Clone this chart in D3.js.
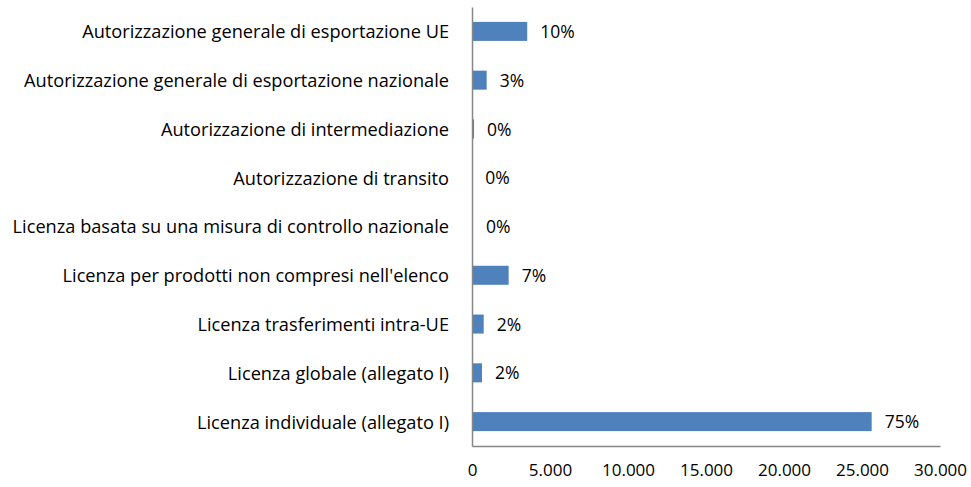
<!DOCTYPE html>
<html>
<head>
<meta charset="utf-8">
<script src="https://cdn.jsdelivr.net/npm/d3@7"></script>
<style>
  body { margin: 0; background: #fff; }
  svg text { font-family: "Open Sans", sans-serif; fill: #000; }
</style>
</head>
<body>
<div id="chart-area"></div>
<script>
var categories = [
	"Autorizzazione generale di esportazione UE",
	"Autorizzazione generale di esportazione nazionale",
	"Autorizzazione di intermediazione",
	"Autorizzazione di transito",
	"Licenza basata su una misura di controllo nazionale",
	"Licenza per prodotti non compresi nell'elenco",
	"Licenza trasferimenti intra-UE",
	"Licenza globale (allegato I)",
	"Licenza individuale (allegato I)"
];
var values = [3540, 940, 130, 10, 60, 2350, 750, 640, 25620];
var pctLabels = ["10%", "3%", "0%", "0%", "0%", "7%", "2%", "2%", "75%"];
var xTicks = [0, 5000, 10000, 15000, 20000, 25000, 30000];

var margin = {top: 7, right: 31, bottom: 41, left: 472};
var width = 971 - margin.left - margin.right;
var height = 487 - margin.top - margin.bottom;

var svg = d3.select("#chart-area")
	.append("svg")
		.attr("width", 971)
		.attr("height", 487);

var g = svg.append("g")
	.attr("transform", "translate(" + margin.left + ", " + margin.top + ")");

var x = d3.scaleLinear()
	.domain([0, 30000])
	.range([0, width]);

var y = d3.scaleBand()
	.domain(categories)
	.range([0, height])
	.paddingInner(0.61)
	.paddingOuter(0.305);

var fmt = function(d) { return d3.format(",")(d).replace(/,/g, "."); };

// bars
g.selectAll("rect.bar")
	.data(values)
	.enter()
	.append("rect")
		.attr("class", "bar")
		.attr("x", 0)
		.attr("y", (d, i) => y(categories[i]))
		.attr("width", (d) => x(d))
		.attr("height", y.bandwidth())
		.attr("fill", "#4F81BD");

// value labels
g.selectAll("text.val")
	.data(values)
	.enter()
	.append("text")
		.attr("class", "val")
		.attr("x", (d) => x(d) + 13)
		.attr("y", (d, i) => y(categories[i]) + y.bandwidth() / 2)
		.attr("dy", "0.38em")
		.attr("font-size", "17.5px")
		.text((d, i) => pctLabels[i]);

// left axis
var leftAxis = d3.axisLeft(y).tickSize(0).tickPadding(23);
var ly = g.append("g")
	.attr("class", "left axis")
	.call(leftAxis);
ly.select(".domain").attr("stroke", "#868686").attr("stroke-width", 1.5);
ly.selectAll("text").attr("font-size", "18.2px").attr("dy", "0.38em").attr("font-family", "'Open Sans', sans-serif").attr("fill", "#000");

// bottom axis
var bottomAxis = d3.axisBottom(x).tickValues(xTicks).tickSize(0).tickPadding(18).tickFormat(fmt);
var bx = g.append("g")
	.attr("class", "bottom axis")
	.attr("transform", "translate(0, " + height + ")")
	.call(bottomAxis);
bx.select(".domain").attr("stroke", "#868686").attr("stroke-width", 1.5);
bx.selectAll("text").attr("font-size", "17px").attr("font-family", "'Open Sans', sans-serif").attr("fill", "#000");
</script>
</body>
</html>
